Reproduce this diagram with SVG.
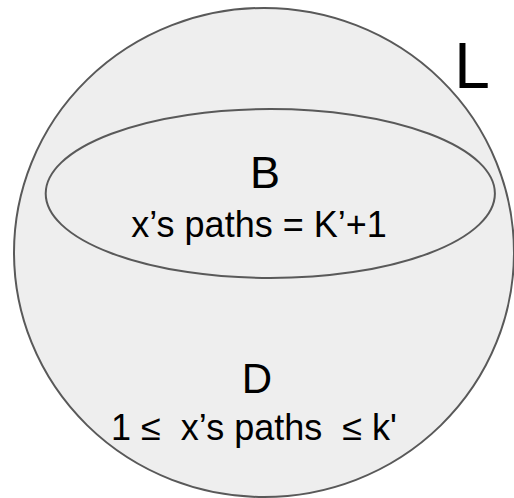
<svg xmlns="http://www.w3.org/2000/svg" width="514" height="498" viewBox="0 0 514 498">
<style>
.sh{fill:#eeeeee;stroke:#595959;stroke-width:2}
.t{font-family:"Liberation Sans",Arial,sans-serif;fill:#000;text-anchor:middle}
</style>
<rect width="514" height="498" fill="#ffffff"/>
<g id="L">
<ellipse class="sh" cx="264" cy="252.5" rx="250" ry="244.5"/>
<text class="t" x="472" y="88" font-size="64">L</text>
</g>
<g id="B">
<ellipse class="sh" cx="270.3" cy="193.5" rx="224.6" ry="84.5"/>
<text class="t" x="265" y="188" font-size="45">B</text>
<text class="t" x="259" y="237" font-size="36">x’s paths = K’+1</text>
</g>
<g id="D">
<text class="t" x="257" y="393" font-size="42">D</text>
<text class="t" x="254" y="440" font-size="36" xml:space="preserve">1 ≤  x’s paths  ≤ k'</text>
</g>
<g id="connectors"/>
</svg>
